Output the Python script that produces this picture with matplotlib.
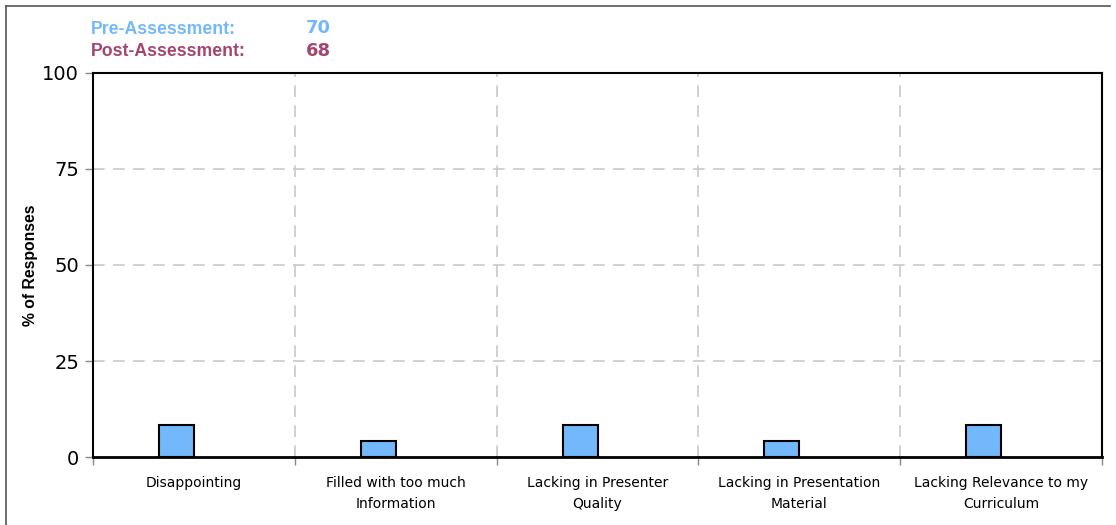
import matplotlib.pyplot as plt
import numpy as np

categories = ['Disappointing', 'Filled with too much\nInformation',
              'Lacking in Presenter\nQuality', 'Lacking in Presentation\nMaterial',
              'Lacking Relevance to my\nCurriculum']
pre_values = [8.33, 4.17, 8.33, 4.17, 8.33]
post_values = [0, 0, 0, 0, 0]
pre_n = 70
post_n = 68

pre_color = '#74b8fc'
post_color = '#a5466f'

fig = plt.figure(figsize=(11.16, 5.25), dpi=100)
ax = fig.add_axes([0.0833, 0.1295, 0.9042, 0.7315])

x = np.arange(len(categories))
w = 0.173
ax.bar(x - w / 2, pre_values, w, color=pre_color, edgecolor='black', linewidth=1.5, zorder=3)
ax.bar(x + w / 2, post_values, w, color=post_color, edgecolor='black', linewidth=0, zorder=3)

ax.set_xlim(-0.5, len(categories) - 0.5)
ax.set_ylim(0, 100)
ax.set_yticks([0, 25, 50, 75, 100])
ax.tick_params(axis='y', labelsize=14, length=6, width=1, color='#888888', pad=4)

# category boundaries as minor ticks with dashed lines
ax.set_xticks(x)
ax.set_xticklabels(categories, fontsize=10, family='DejaVu Sans', linespacing=1.6)
ax.tick_params(axis='x', which='major', length=0, pad=14)
ax.set_xticks(np.arange(-0.5, len(categories)), minor=True)
ax.tick_params(axis='x', which='minor', length=6, width=1, color='#888888')
for b in np.arange(0.5, len(categories) - 0.5):
    ax.axvline(b, color='#c8c8c8', linestyle=(0, (7, 5)), linewidth=1.2, zorder=1)
for yv in [25, 50, 75]:
    ax.axhline(yv, color='#c8c8c8', linestyle=(0, (7, 5)), linewidth=1.2, zorder=1)

for s in ax.spines.values():
    s.set_linewidth(1.5)
ax.spines['bottom'].set_linewidth(2)

ax.set_ylabel('% of Responses', fontsize=11.3, fontweight='bold', family='Liberation Sans')
ax.yaxis.set_label_coords(-0.054, 0.5)

fig.text(0.081, 0.944, 'Pre-Assessment:', color=pre_color, fontsize=12.7, fontweight='bold',
         family='Liberation Sans', va='center')
fig.text(0.274, 0.946, str(pre_n), color=pre_color, fontsize=13, fontweight='bold',
         family='DejaVu Sans', va='center')
fig.text(0.081, 0.902, 'Post-Assessment:', color=post_color, fontsize=12.7, fontweight='bold',
         family='Liberation Sans', va='center')
fig.text(0.274, 0.902, str(post_n), color=post_color, fontsize=13, fontweight='bold',
         family='DejaVu Sans', va='center')

# outer frame lines (left and top)
fig.add_artist(plt.Line2D([0.0054, 0.0054], [0, 0.989], color='#555555', linewidth=1.2))
fig.add_artist(plt.Line2D([0.0054, 0.995], [0.989, 0.989], color='#555555', linewidth=1.2))

plt.savefig('out.png', dpi=100)
